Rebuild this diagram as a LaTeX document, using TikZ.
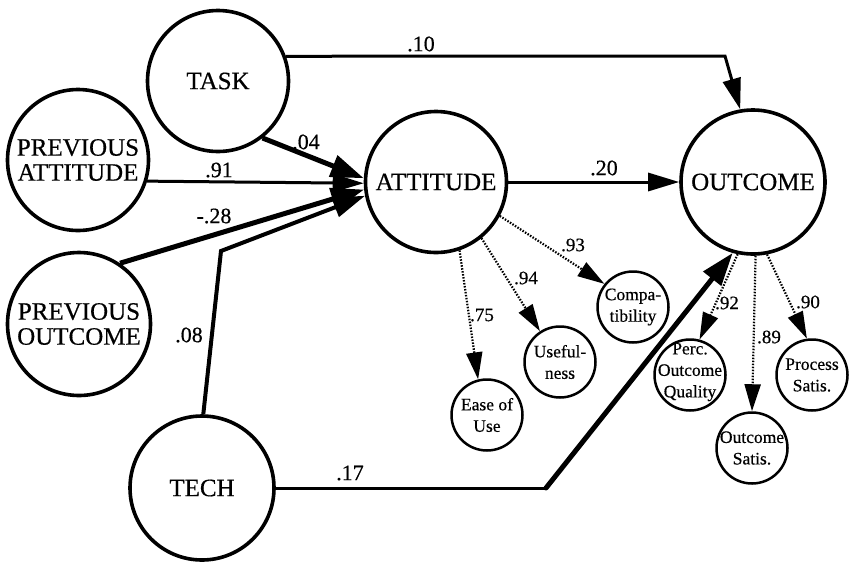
\documentclass[tikz,border=0pt]{standalone}
\usepackage{fontspec}
\setmainfont{Liberation Serif}[FakeBold=0.5]
\usetikzlibrary{arrows.meta}
\begin{document}
\begin{tikzpicture}[x=1pt,y=-1pt,
  latent/.style={draw,circle,line width=3.6pt,minimum size=141pt,inner sep=0pt,
    align=center,font=\fontsize{25}{25}\selectfont},
  indic/.style={draw,circle,line width=2.5pt,minimum size=71pt,inner sep=0pt},
  indtext/.style={align=center,inner sep=0pt,font=\fontsize{17.5}{21.5}\selectfont},
  pthin/.style={line width=3pt,-{Triangle[length=31pt,width=18pt]}},
  pmid/.style={line width=4pt,-{Triangle[length=32pt,width=20pt]}},
  pthick/.style={line width=5pt,-{Triangle[length=33pt,width=22pt]}},
  load/.style={line width=2.2pt,dash pattern=on 1.5pt off 1.5pt,
    -{Triangle[length=27pt,width=16pt]}},
  coef/.style={inner sep=0pt,font=\fontsize{22}{22}\selectfont},
  lcoef/.style={inner sep=0pt,font=\fontsize{19}{19}\selectfont},
]
\useasboundingbox (0,0) rectangle (853,563);

% latent constructs
\node[latent] (task) at (218,81) {TASK};
\node[latent] (prevatt) at (78,160) {PREVIOUS\\ATTITUDE};
\node[latent,minimum size=143pt] (prevout) at (79,324) {PREVIOUS\\OUTCOME};
\node[latent,minimum size=144pt] (tech) at (202,488) {TECH};
\node[latent] (att) at (436,182) {ATTITUDE};
\node[latent,minimum size=144pt] (out) at (753,182) {OUTCOME};

% indicators
\node[indic] (ease) at (487,415) {};
\node[indtext] (ease-t) at (ease) {Ease of\\Use};
\node[indic] (useful) at (560,362) {};
\node[indtext] (useful-t) at (useful) {Useful-\\ness};
\node[indic] (compat) at (633,307) {};
\node[indtext] (compat-t) at (compat) {Compa-\\tibility};
\node[indic] (perc) at (690,375) {};
\node[indtext] (perc-t) at (690,372) {Perc.\\Outcome\\Quality};
\node[indic] (osat) at (752,448) {};
\node[indtext] (osat-t) at (osat) {Outcome\\Satis.};
\node[indic] (psat) at (812,375) {};
\node[indtext] (psat-t) at (psat) {Process\\Satis.};

% bend points
\coordinate (bendA) at (725,56);
\coordinate (bendB) at (221,251);
\coordinate (bendC) at (546,488);

% structural paths
\draw[pthin] (task.20) -- (bendA) -- (out.100);
\draw[pthick] (task.-52) -- (att.177);
\draw[pthin] (prevatt.-17) -- (att.181);
\draw[pthick] (prevout.56) -- (att.186);
\draw[pmid] (tech.89) -- (bendB) -- (att.191);
\draw[line width=3pt] (tech.0) -- (bendC);
\draw[pthick,line cap=round] (bendC) -- (out.254);
\draw[pthin] (att.0) -- (out.180);

% measurement loadings
\draw[load] (att.-71) -- (ease.104);
\draw[load] (att.-51) -- (useful.123);
\draw[load] (att.-28) -- (compat.141);
\draw[load] (out.258) -- (perc.75);
\draw[load] (out.-88) -- (osat.90);
\draw[load] (out.-79) -- (psat.98);

% path coefficients
\node[coef] (c10) at (421,44) {.10};
\node[coef] (c04) at (306,142) {.04};
\node[coef] (c91) at (219,170) {.91};
\node[coef] (c28) at (214,216) {-.28};
\node[coef] (c08) at (189,335) {.08};
\node[coef] (c17) at (350,473) {.17};
\node[coef] (c20) at (604,168) {.20};

% loadings
\node[lcoef] (l93) at (573,245) {.93};
\node[lcoef] (l94) at (526,278) {.94};
\node[lcoef] (l75) at (482,315) {.75};
\node[lcoef] (l92) at (727,303) {.92};
\node[lcoef] (l89) at (769,337) {.89};
\node[lcoef] (l90) at (808,302) {.90};
\end{tikzpicture}
\end{document}
